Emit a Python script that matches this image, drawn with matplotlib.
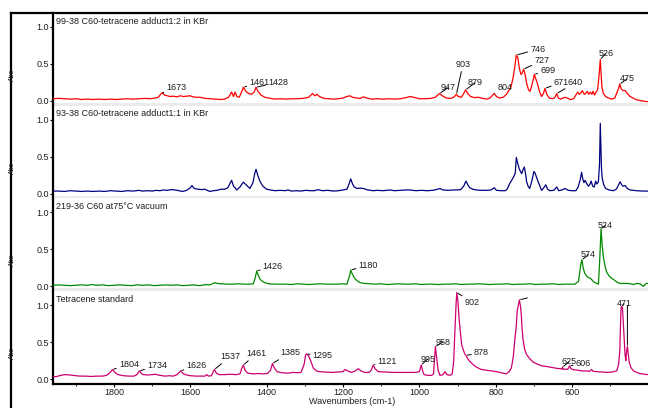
import numpy as np
import matplotlib
matplotlib.use("Agg")
import matplotlib.pyplot as plt
from matplotlib.lines import Line2D
from matplotlib.ticker import MultipleLocator

plt.rcParams['font.family'] = ['Liberation Sans', 'DejaVu Sans']

# ---------------------------------------------------------------- spectra
# (wavenumber cm-1, absorbance)
adduct_1to2 = [
    (1960, 0.03), (1945, 0.035), (1930, 0.03), (1915, 0.025), (1900, 0.03), (1885, 0.02),
    (1870, 0.025), (1855, 0.02), (1840, 0.025), (1825, 0.02), (1810, 0.025), (1795, 0.02),
    (1780, 0.025), (1765, 0.03), (1750, 0.025), (1735, 0.03), (1720, 0.035), (1705, 0.03),
    (1692, 0.04), (1684, 0.05), (1678, 0.09), (1673, 0.11), (1668, 0.08), (1660, 0.07),
    (1653, 0.06), (1645, 0.065), (1636, 0.055), (1627, 0.07), (1618, 0.06), (1610, 0.065),
    (1601, 0.07), (1592, 0.055), (1584, 0.05), (1575, 0.05), (1562, 0.035), (1549, 0.03),
    (1535, 0.025), (1520, 0.02), (1510, 0.025), (1500, 0.05), (1492, 0.12), (1487, 0.06),
    (1483, 0.12), (1478, 0.06), (1472, 0.05), (1466, 0.12), (1461, 0.185), (1455, 0.13),
    (1447, 0.10), (1440, 0.09), (1433, 0.12), (1428, 0.185), (1423, 0.13), (1415, 0.08),
    (1405, 0.05), (1395, 0.04), (1380, 0.025), (1365, 0.03), (1350, 0.025), (1335, 0.03),
    (1320, 0.03), (1305, 0.035), (1290, 0.05), (1280, 0.10), (1274, 0.07), (1268, 0.09),
    (1262, 0.06), (1250, 0.035), (1238, 0.03), (1225, 0.025), (1212, 0.03), (1200, 0.04),
    (1190, 0.06), (1182, 0.07), (1175, 0.05), (1165, 0.04), (1155, 0.035), (1147, 0.055),
    (1138, 0.04), (1125, 0.025), (1110, 0.03), (1095, 0.025), (1080, 0.03), (1065, 0.025),
    (1050, 0.03), (1035, 0.045), (1025, 0.06), (1015, 0.05), (1000, 0.03), (985, 0.03),
    (970, 0.035), (958, 0.05), (950, 0.09), (947, 0.10), (940, 0.07), (930, 0.04),
    (918, 0.035), (910, 0.05), (903, 0.09), (898, 0.06), (890, 0.05), (884, 0.10),
    (879, 0.15), (873, 0.10), (866, 0.06), (855, 0.045), (846, 0.05), (835, 0.035),
    (823, 0.025), (815, 0.04), (808, 0.08), (804, 0.10), (798, 0.06), (790, 0.04),
    (780, 0.05), (772, 0.09), (766, 0.14), (760, 0.19), (755, 0.30), (750, 0.46),
    (746, 0.62), (742, 0.58), (738, 0.44), (734, 0.36), (731, 0.37), (727, 0.43),
    (723, 0.36), (719, 0.24), (714, 0.15), (710, 0.13), (706, 0.20), (702, 0.28),
    (699, 0.36), (695, 0.30), (691, 0.24), (686, 0.14), (680, 0.06), (675, 0.10),
    (671, 0.17), (666, 0.09), (660, 0.04), (650, 0.03), (645, 0.05), (640, 0.10),
    (636, 0.04), (630, 0.025), (624, 0.04), (618, 0.05), (611, 0.035), (604, 0.02),
    (596, 0.03), (590, 0.08), (585, 0.12), (581, 0.09), (577, 0.11), (573, 0.14),
    (568, 0.09), (564, 0.10), (560, 0.13), (556, 0.09), (552, 0.12), (548, 0.09),
    (545, 0.13), (541, 0.08), (537, 0.12), (533, 0.15), (530, 0.30), (526, 0.56),
    (522, 0.20), (518, 0.10), (512, 0.06), (505, 0.04), (496, 0.025), (488, 0.04),
    (482, 0.12), (478, 0.17), (475, 0.23), (471, 0.16), (466, 0.14), (461, 0.14),
    (455, 0.10), (448, 0.06), (440, 0.04), (431, 0.015), (420, 0.005), (410, -0.005),
    (400, -0.01),
]

adduct_1to1 = [
    (1960, 0.035), (1945, 0.035), (1930, 0.03), (1915, 0.04), (1900, 0.035), (1885, 0.03),
    (1870, 0.035), (1855, 0.03), (1840, 0.035), (1825, 0.03), (1810, 0.04), (1795, 0.035),
    (1780, 0.03), (1765, 0.04), (1750, 0.035), (1735, 0.045), (1725, 0.035), (1712, 0.04),
    (1700, 0.035), (1690, 0.045), (1680, 0.04), (1670, 0.05), (1660, 0.045), (1650, 0.055),
    (1640, 0.05), (1630, 0.04), (1620, 0.03), (1610, 0.045), (1600, 0.08), (1596, 0.11),
    (1590, 0.07), (1580, 0.06), (1570, 0.055), (1562, 0.06), (1556, 0.045), (1549, 0.03),
    (1540, 0.04), (1530, 0.045), (1520, 0.06), (1510, 0.06), (1502, 0.08), (1496, 0.14),
    (1492, 0.18), (1487, 0.10), (1483, 0.08), (1479, 0.05), (1470, 0.09), (1465, 0.13),
    (1461, 0.155), (1452, 0.11), (1444, 0.07), (1436, 0.15), (1432, 0.26), (1428, 0.33),
    (1423, 0.24), (1418, 0.17), (1410, 0.10), (1400, 0.06), (1390, 0.05), (1378, 0.04),
    (1365, 0.045), (1352, 0.04), (1344, 0.05), (1335, 0.035), (1322, 0.04), (1310, 0.035),
    (1298, 0.045), (1285, 0.04), (1275, 0.04), (1265, 0.055), (1255, 0.04), (1240, 0.045),
    (1225, 0.035), (1212, 0.04), (1200, 0.05), (1190, 0.06), (1185, 0.12), (1180, 0.20),
    (1175, 0.13), (1171, 0.09), (1163, 0.07), (1155, 0.075), (1147, 0.07), (1135, 0.05),
    (1121, 0.04), (1110, 0.045), (1095, 0.04), (1077, 0.05), (1065, 0.04), (1050, 0.045),
    (1035, 0.05), (1024, 0.05), (1010, 0.04), (995, 0.045), (980, 0.04), (965, 0.045),
    (952, 0.06), (946, 0.07), (938, 0.05), (925, 0.045), (912, 0.05), (902, 0.05),
    (892, 0.055), (884, 0.10), (878, 0.17), (872, 0.11), (868, 0.08), (860, 0.06),
    (850, 0.05), (840, 0.045), (825, 0.045), (812, 0.05), (804, 0.08), (798, 0.045),
    (785, 0.04), (775, 0.04), (770, 0.06), (763, 0.14), (756, 0.20), (749, 0.27),
    (746, 0.49), (742, 0.40), (738, 0.33), (732, 0.27), (728, 0.33), (725, 0.36),
    (721, 0.24), (719, 0.16), (715, 0.10), (711, 0.07), (705, 0.18), (700, 0.30),
    (697, 0.28), (693, 0.22), (688, 0.15), (684, 0.10), (680, 0.045), (674, 0.08),
    (669, 0.12), (664, 0.06), (658, 0.04), (648, 0.045), (640, 0.09), (635, 0.04),
    (627, 0.05), (618, 0.07), (610, 0.045), (600, 0.04), (590, 0.04), (584, 0.09),
    (579, 0.18), (575, 0.29), (572, 0.20), (569, 0.15), (566, 0.18), (562, 0.14),
    (557, 0.10), (553, 0.13), (550, 0.17), (546, 0.10), (542, 0.09), (538, 0.17),
    (535, 0.13), (531, 0.16), (528, 0.40), (526, 0.95), (523, 0.35), (521, 0.21),
    (517, 0.12), (512, 0.07), (503, 0.05), (492, 0.04), (484, 0.06), (478, 0.12),
    (474, 0.16), (470, 0.12), (466, 0.10), (461, 0.11), (455, 0.07), (448, 0.05),
    (440, 0.045), (431, 0.04), (415, 0.035), (400, 0.035),
]

c60_vacuum = [
    (1960, 0.015), (1945, 0.02), (1930, 0.015), (1915, 0.01), (1900, 0.015), (1885, 0.02),
    (1870, 0.015), (1858, 0.025), (1845, 0.015), (1830, 0.02), (1815, 0.01), (1800, 0.015),
    (1785, 0.02), (1770, 0.015), (1755, 0.01), (1740, 0.02), (1725, 0.015), (1710, 0.02),
    (1695, 0.01), (1680, 0.015), (1665, 0.02), (1650, 0.015), (1635, 0.02), (1620, 0.01),
    (1605, 0.015), (1590, 0.02), (1578, 0.01), (1568, 0.015), (1560, 0.025), (1550, 0.02),
    (1540, 0.04), (1536, 0.05), (1530, 0.04), (1520, 0.035), (1505, 0.03), (1490, 0.03),
    (1475, 0.035), (1460, 0.03), (1445, 0.03), (1435, 0.035), (1430, 0.12), (1426, 0.21),
    (1422, 0.15), (1418, 0.10), (1412, 0.07), (1405, 0.05), (1395, 0.035), (1380, 0.03),
    (1365, 0.03), (1350, 0.03), (1335, 0.025), (1320, 0.035), (1305, 0.03), (1290, 0.025),
    (1275, 0.03), (1260, 0.035), (1245, 0.03), (1230, 0.03), (1215, 0.03), (1200, 0.035),
    (1190, 0.03), (1183, 0.14), (1180, 0.22), (1176, 0.17), (1170, 0.11), (1162, 0.07),
    (1155, 0.05), (1145, 0.04), (1130, 0.035), (1115, 0.03), (1100, 0.035), (1085, 0.025),
    (1070, 0.03), (1055, 0.035), (1040, 0.03), (1025, 0.03), (1010, 0.035), (995, 0.025),
    (980, 0.03), (965, 0.03), (950, 0.025), (935, 0.03), (920, 0.03), (905, 0.035),
    (890, 0.025), (875, 0.03), (860, 0.03), (845, 0.035), (830, 0.03), (815, 0.025),
    (800, 0.03), (785, 0.03), (770, 0.035), (755, 0.025), (740, 0.03), (725, 0.03),
    (710, 0.035), (695, 0.025), (680, 0.03), (665, 0.03), (650, 0.035), (635, 0.025),
    (620, 0.03), (605, 0.03), (592, 0.03), (583, 0.07), (577, 0.30), (574, 0.36),
    (571, 0.25), (567, 0.18), (562, 0.14), (557, 0.12), (550, 0.10), (545, 0.07),
    (540, 0.05), (535, 0.04), (531, 0.03), (528, 0.30), (526, 0.55), (524, 0.78),
    (521, 0.55), (518, 0.40), (513, 0.26), (509, 0.19), (503, 0.14), (496, 0.11),
    (488, 0.08), (480, 0.05), (474, 0.04), (466, 0.04), (456, 0.04), (447, 0.035),
    (439, 0.025), (430, 0.04), (422, 0.035), (417, 0.015), (413, 0.0), (408, 0.03),
    (404, 0.04), (400, 0.04),
]

tetracene = [
    (1960, 0.03), (1950, 0.035), (1940, 0.05), (1928, 0.06), (1915, 0.055), (1900, 0.045),
    (1889, 0.04), (1875, 0.04), (1860, 0.035), (1845, 0.04), (1830, 0.04), (1820, 0.05),
    (1812, 0.08), (1804, 0.13), (1798, 0.09), (1790, 0.06), (1775, 0.045), (1760, 0.04),
    (1748, 0.04), (1740, 0.06), (1734, 0.11), (1729, 0.08), (1724, 0.06), (1712, 0.055),
    (1700, 0.06), (1692, 0.065), (1680, 0.05), (1666, 0.04), (1655, 0.045), (1645, 0.04),
    (1635, 0.06), (1626, 0.11), (1620, 0.08), (1614, 0.06), (1600, 0.045), (1585, 0.04),
    (1570, 0.04), (1562, 0.04), (1557, 0.06), (1553, 0.04), (1545, 0.045), (1541, 0.09),
    (1537, 0.13), (1532, 0.08), (1525, 0.06), (1510, 0.06), (1495, 0.065), (1480, 0.06),
    (1470, 0.07), (1465, 0.15), (1461, 0.19), (1457, 0.12), (1450, 0.08), (1435, 0.07),
    (1420, 0.075), (1410, 0.07), (1398, 0.075), (1390, 0.12), (1385, 0.21), (1380, 0.15),
    (1373, 0.10), (1360, 0.085), (1345, 0.08), (1330, 0.09), (1320, 0.085), (1310, 0.09),
    (1302, 0.20), (1298, 0.33), (1295, 0.34), (1290, 0.31), (1285, 0.25), (1278, 0.15),
    (1270, 0.11), (1262, 0.10), (1245, 0.095), (1230, 0.09), (1215, 0.095), (1200, 0.10),
    (1195, 0.13), (1188, 0.11), (1178, 0.09), (1168, 0.11), (1160, 0.14), (1153, 0.11),
    (1143, 0.09), (1132, 0.09), (1126, 0.12), (1121, 0.19), (1116, 0.14), (1108, 0.10),
    (1090, 0.095), (1070, 0.09), (1050, 0.09), (1030, 0.09), (1010, 0.09), (1000, 0.10),
    (995, 0.19), (992, 0.12), (988, 0.06), (978, 0.05), (968, 0.05), (963, 0.07),
    (960, 0.30), (958, 0.44), (955, 0.30), (951, 0.12), (946, 0.05), (938, 0.06),
    (933, 0.10), (928, 0.06), (920, 0.05), (914, 0.07), (910, 0.25), (907, 0.65),
    (904, 1.00), (902, 1.17), (899, 1.05), (896, 0.82), (892, 0.60), (889, 0.46),
    (884, 0.38), (881, 0.34), (878, 0.32), (874, 0.28), (868, 0.24), (858, 0.19),
    (850, 0.16), (838, 0.13), (824, 0.12), (810, 0.11), (798, 0.10), (785, 0.085),
    (772, 0.07), (765, 0.10), (759, 0.15), (754, 0.30), (750, 0.53), (746, 0.72),
    (744, 0.91), (740, 1.02), (738, 1.07), (735, 0.98), (733, 0.87), (731, 0.68),
    (728, 0.52), (724, 0.40), (719, 0.33), (710, 0.27), (702, 0.23), (690, 0.20),
    (680, 0.18), (667, 0.17), (650, 0.155), (640, 0.145), (630, 0.14), (627, 0.135),
    (625, 0.16), (623, 0.13), (619, 0.135), (612, 0.13), (608, 0.16), (606, 0.18),
    (603, 0.14), (595, 0.125), (585, 0.12), (575, 0.11), (565, 0.11), (554, 0.105),
    (549, 0.13), (545, 0.105), (535, 0.10), (520, 0.095), (509, 0.09), (495, 0.095),
    (483, 0.11), (478, 0.20), (475, 0.37), (472, 0.92), (471, 0.98), (468, 0.97),
    (464, 0.60), (461, 0.32), (459, 0.25), (457, 0.38), (455, 0.44), (452, 0.30),
    (450, 0.22), (445, 0.15), (439, 0.11), (430, 0.09), (422, 0.075), (410, 0.065),
    (401, 0.06),
]

titles = [
    "99-38 C60-tetracene adduct1:2 in KBr",
    "93-38 C60-tetracene adduct1:1 in KBr",
    "219-36 C60 at75\u00b0C vacuum",
    "Tetracene standard",
]
colors = ["#ff0000", "#000080", "#008a00", "#cc0070"]

# peak labels: (wavenumber, text offset in pixels from the peak)
peaks_1to2 = [(1673, (4, 5)), (1461, (6, 5)), (1428, (12, 5)), (947, (1, 6)),
              (903, (-1, 30)), (879, (2, 7)), (804, (3, 6)), (746, (14, 6)),
              (727, (11, 8.5)), (699, (6, 3.5)), (671, (9, 6)), (640, (11, 11)),
              (526, (-2, 6)), (475, (0, 5))]
peaks_1to1 = []
peaks_c60 = [(1426, (6, 4)), (1180, (8, 5)), (574, (-1, 5)), (524, (-3, 3))]
peaks_tetracene = [(1804, (6.5, 4.5)), (1734, (8, 5)), (1626, (6, 5)), (1537, (6, 13)),
                   (1461, (3, 11.5)), (1385, (8, 11)), (1295, (6, -2)), (1121, (4.5, 4)),
                   (995, (-1, 6)), (958, (0, 4.5)), (902, (8, -10)), (878, (8, 2.6)),
                   (625, (-1, 5.6)), (606, (6, 2.4)), (471, (-4.6, 2.7))]
# leaders drawn without a number
bare_leaders_tetracene = [(738, (8, 2)), (455, (0, 41))]

series = [adduct_1to2, adduct_1to1, c60_vacuum, tetracene]
peak_sets = [peaks_1to2, peaks_1to1, peaks_c60, peaks_tetracene]

# ---------------------------------------------------------------- layout (pixels)
W, H = 648, 408
LEFT, RIGHT = 53, 648
TOP0, PANEL_H = 13, 92.7
YLIM = (-0.064, 1.189)
XLIM = (1960, 401)
FS = 6.5
TXT = "#1e1e1e"

fig = plt.figure(figsize=(W / 100, H / 100), dpi=100)

for i, (data, title, col, peaks) in enumerate(zip(series, titles, colors, peak_sets)):
    top = TOP0 + PANEL_H * i
    ax = fig.add_axes([LEFT / W, 1 - (top + PANEL_H) / H, (RIGHT - LEFT) / W, PANEL_H / H])
    arr = np.array(data)
    wn, ab = arr[:, 0], arr[:, 1]
    ax.plot(wn, ab, color=col, lw=0.9, zorder=3)
    ax.set_xlim(*XLIM)
    ax.set_ylim(*YLIM)
    for s in ("top", "right"):
        ax.spines[s].set_visible(False)
    ax.spines["left"].set_linewidth(1.6)
    last = i == len(series) - 1
    if last:
        ax.spines["bottom"].set_linewidth(1.6)
    else:
        ax.spines["bottom"].set_visible(False)
        ax.axhspan(YLIM[0], -0.027, color="#ebebeb", lw=0, zorder=1)
    ax.set_yticks([0.0, 0.5, 1.0])
    ax.set_yticklabels(["0.0", "0.5", "1.0"])
    ax.tick_params(axis="y", direction="out", length=2.5, width=0.8, pad=0.6,
                   labelsize=FS, labelcolor=TXT)
    ax.xaxis.set_major_locator(MultipleLocator(200))
    ax.xaxis.set_minor_locator(MultipleLocator(100))
    if last:
        ax.tick_params(axis="x", which="major", direction="out", length=2.5, width=0.8,
                       pad=0.8, labelsize=FS, labelcolor=TXT)
        ax.tick_params(axis="x", which="minor", direction="out", length=1.5, width=0.6)
        ax.set_xticks([1800, 1600, 1400, 1200, 1000, 800, 600])
    else:
        ax.tick_params(axis="x", which="both", bottom=False, labelbottom=False)
    ax.text(3 / (RIGHT - LEFT), 1 - 8 / PANEL_H, title, transform=ax.transAxes,
            ha="left", va="center", fontsize=FS, color=TXT)

    leaders = [(w, off, str(w)) for w, off in peaks]
    if last:
        leaders += [(w, off, "") for w, off in bare_leaders_tetracene]
    for w, (dx, dy), label in leaders:
        y = float(np.interp(w, wn[::-1], ab[::-1]))
        ax.annotate(label, xy=(w, y), xytext=(dx, dy), textcoords="offset pixels",
                    ha="left", va="center", fontsize=FS, color=TXT, zorder=4,
                    annotation_clip=False,
                    arrowprops=dict(arrowstyle="-", lw=0.7, color="black",
                                    shrinkA=0, shrinkB=1))

    # "Abs" axis caption for each panel
    fig.text(12 / W, 1 - (top + 8 + (1.189 - 0.46) * 74) / H, "Abs", rotation=90,
             ha="center", va="center", fontsize=5, color=TXT)

fig.text(352 / W, 1 - 401 / H, "Wavenumbers (cm-1)", ha="center", va="center",
         fontsize=FS, color=TXT)

# outer frame
fig.add_artist(Line2D([11 / W, 11 / W], [0, 1 - 13 / H], transform=fig.transFigure,
                      color="black", lw=1.6))
fig.add_artist(Line2D([11 / W, 1], [1 - 13 / H, 1 - 13 / H], transform=fig.transFigure,
                      color="black", lw=1.6))

fig.savefig("out.png", dpi=100)
